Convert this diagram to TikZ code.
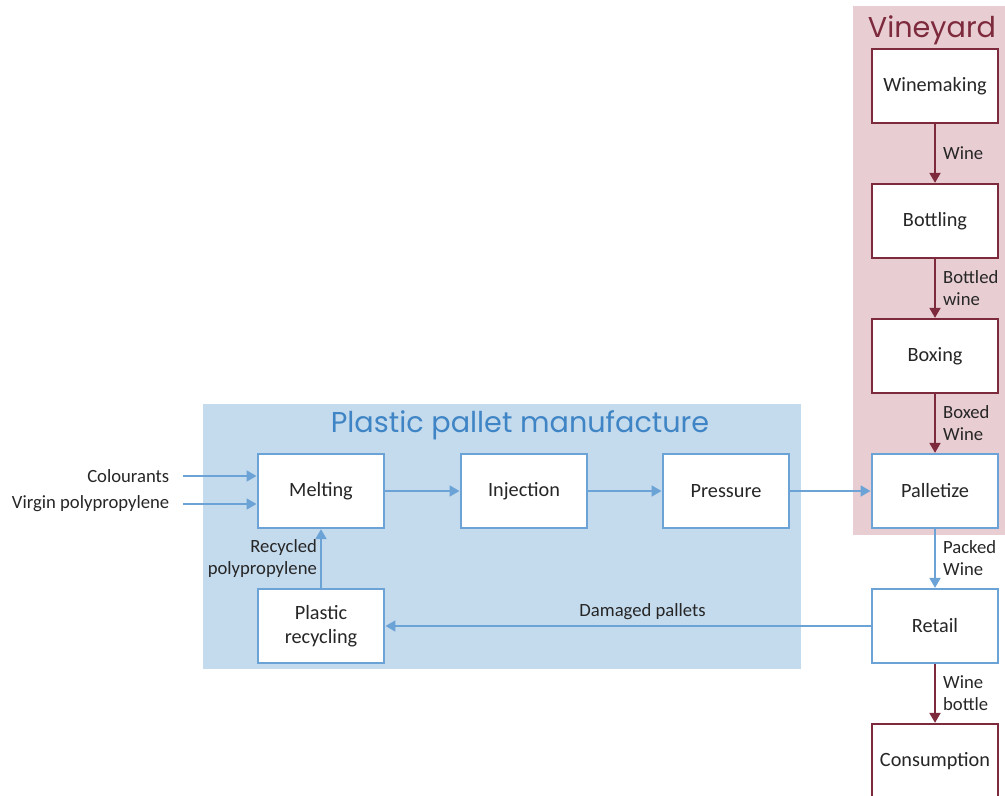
\documentclass[tikz,border=0pt]{standalone}
\usepackage{fontspec}
\setmainfont{Carlito}
\newfontfamily\headfont{Poppins}
\usepackage{xcolor}
\definecolor{wine}{HTML}{7D2A3C}
\definecolor{winebg}{HTML}{E8CDD2}
\definecolor{pp}{HTML}{6CA3D7}
\definecolor{ppbg}{HTML}{C4DAED}
\definecolor{pptitle}{HTML}{3F85C5}
\definecolor{ink}{HTML}{262626}
\usetikzlibrary{arrows.meta,positioning}
\tikzset{
  every picture/.style={font=\fontsize{14}{16.5}\selectfont, line width=1.6pt},
  stage/.style={draw=#1, fill=white, text=ink, align=center, minimum width=95pt, minimum height=55.5pt, inner sep=2pt, font=\fontsize{15.2}{18}\selectfont},
  stage/.default=pp,
  flow/.style={-{Triangle[length=7.5pt,width=8pt]}, draw=#1, line width=2.2pt},
  flow/.default=pp,
  lbl/.style={text=ink, align=left, inner sep=2pt, font=\fontsize{14}{16.5}\selectfont},
  heading/.style={font=\headfont\fontsize{21.5}{24}\selectfont, text=#1},
}

\begin{document}
\begin{tikzpicture}[x=0.75pt, y=-0.75pt]
  \useasboundingbox (0,0) rectangle (1005,795);
  % background areas
  \fill[ppbg] (203,404) rectangle (801,669);
  \fill[winebg] (853,6) rectangle (1005,535);
  \node[heading=pptitle] (pptitle) at (520,425) {Plastic pallet manufacture};
  \node[heading=wine] (vtitle) at (932,30) {Vineyard};

  % vineyard chain
  \node[stage=wine] (make) at (935,86) {Winemaking};
  \node[stage=wine] (bottle) at (935,221) {Bottling};
  \node[stage=wine] (box) at (935,356) {Boxing};
  \node[stage] (pallet) at (935,491) {Palletize};
  \node[stage] (retail) at (935,626) {Retail};
  \node[stage=wine] (drink) at (935,761) {Consumption};

  % pallet manufacture
  \node[stage] (melt) at (321,491) {Melting};
  \node[stage] (inject) at (524,491) {Injection};
  \node[stage] (press) at (726,491) {Pressure};
  \node[stage] (recycle) at (321,626) {Plastic\\recycling};

  % inputs
  \node[lbl, anchor=east] (col) at (173,476) {Colourants};
  \node[lbl, anchor=east] (virgin) at (173,504) {Virgin polypropylene};
  \draw[flow] (col.east) ++(10,0) -- (melt.west |- col.east);
  \draw[flow] (virgin.east) ++(10,0) -- (melt.west |- virgin.east);

  \draw[flow] (melt) -- (inject);
  \draw[flow] (inject) -- (press);
  \draw[flow] (press) -- (pallet);
  \draw[flow] (recycle) -- node[lbl, left=0pt, align=right] {Recycled\\polypropylene} (melt);
  \draw[flow] (retail) -- node[lbl, above=2pt, pos=0.47] {Damaged pallets} (recycle);

  \draw[flow=wine] (make) -- node[lbl, right=3pt] {Wine} (bottle);
  \draw[flow=wine] (bottle) -- node[lbl, right=3pt] {Bottled\\wine} (box);
  \draw[flow=wine] (box) -- node[lbl, right=3pt] {Boxed\\Wine} (pallet);
  \draw[flow] (pallet) -- node[lbl, right=3pt] {Packed\\Wine} (retail);
  \draw[flow=wine] (retail) -- node[lbl, right=3pt] {Wine\\bottle} (drink);
\end{tikzpicture}
\end{document}
